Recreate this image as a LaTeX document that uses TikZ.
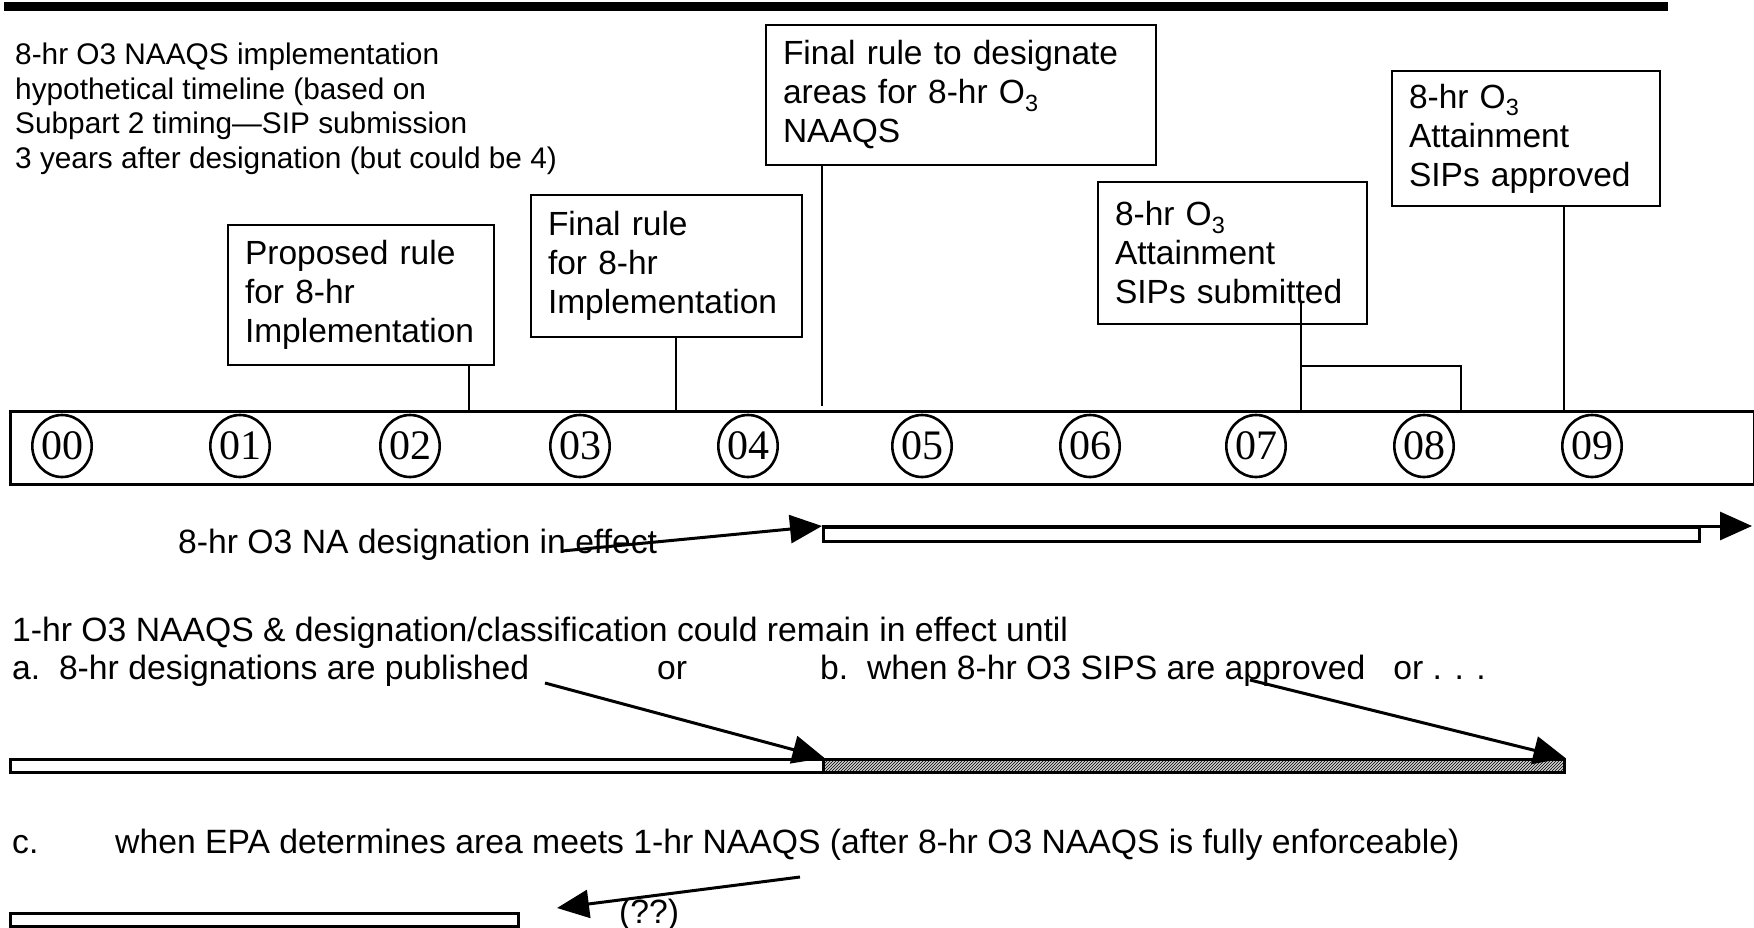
\documentclass[tikz,border=0pt]{standalone}
\usepackage{fontspec}
\setmainfont{Liberation Sans}
\newfontfamily\numfont{Liberation Serif}
\usetikzlibrary{arrows.meta,patterns,shapes.geometric}
\begin{document}
\begin{tikzpicture}[x=1pt,y=-1pt,
  evbox/.style={draw, line width=2pt, anchor=north west, align=left, inner xsep=17pt, inner ysep=0pt, font=\fontsize{33.5}{39}\selectfont},
  yr/.style={draw, ellipse, line width=2.6pt, minimum width=54pt, minimum height=62pt, inner sep=0pt, font=\numfont\fontsize{42}{42}\selectfont},
  tick/.style={line width=2pt},
  bigarrow/.style={line width=3pt, -{Triangle[length=32pt,width=28pt]}},
  period/.style={draw, line width=2.5pt, fill=white, anchor=north west, inner sep=0pt},
  lbl/.style={anchor=base west, inner sep=0pt, font=\fontsize{33.7}{40}\selectfont}
]
\useasboundingbox (0,0) rectangle (1754,928);

% top rule
\draw[line width=9pt] (4,7) -- (1668,7);

% title
\node[anchor=north west, align=left, inner sep=0pt, font=\fontsize{29.8}{34.5}\selectfont] (title) at (15,43)
  {8-hr O3 NAAQS implementation\\hypothetical timeline (based on\\Subpart 2 timing---SIP submission\\3 years after designation (but could be 4)};

% event boxes
\node[evbox, text width=232pt, minimum height=140pt] (prop) at (227,224) {Proposed rule\\for 8-hr\\Implementation};
\node[evbox, text width=237pt, minimum height=142pt] (fin) at (530,194) {Final rule\\for 8-hr\\Implementation};
\node[evbox, text width=356pt, minimum height=140pt] (desig) at (765,24) {Final rule to designate\\areas for 8-hr O\textsubscript{3}\\NAAQS};
\node[evbox, text width=235pt, minimum height=142pt] (sub) at (1097,181) {8-hr O\textsubscript{3}\\Attainment\\SIPs submitted};
\node[evbox, text width=234pt, minimum height=135pt] (appr) at (1391,70) {8-hr O\textsubscript{3}\\Attainment\\SIPs approved};

% timeline bar
\node[draw, line width=3pt, anchor=north west, minimum width=1744pt, minimum height=73pt, inner sep=0pt] (bar) at (9,410) {};
\foreach \i/\x in {00/62,01/240,02/410,03/580,04/748,05/922,06/1090,07/1256,08/1424,09/1592}
  \node[yr] (c\i) at (\x,446) {\i};

% connectors
\draw[tick] ([xshift=242pt]prop.south west) -- ([xshift=242pt]prop.south west |- bar.north);
\draw[tick] ([xshift=146pt]fin.south west) -- ([xshift=146pt]fin.south west |- bar.north);
\draw[tick] ([xshift=57pt]desig.south west) -- ([xshift=57pt,yshift=4pt]desig.south west |- bar.north);
\coordinate (brk) at (1461,366);
\draw[tick] ([xshift=204pt,yshift=23pt]sub.south west) -- ([xshift=204pt]sub.south west |- bar.north);
\draw[tick] ([xshift=204pt]sub.south west |- brk) -- (brk) -- (brk |- bar.north);
\draw[tick] ([xshift=173pt]appr.south west) -- ([xshift=173pt]appr.south west |- bar.north);

% 8-hr NA designation
\node[lbl] (na) at (178,553) {8-hr O3 NA designation in effect};
\node[period, minimum width=876pt, minimum height=14pt] (nabar) at (822,526) {};
\coordinate (naend) at (1752,526);
\coordinate (nastart) at (562,551);
\draw[bigarrow] (nabar.north west) -- (naend);
\draw[bigarrow] (nastart) -- (nabar.north west);

% 1-hr text
\node[lbl] (l1) at (12,641) {1-hr O3 NAAQS \& designation/classification could remain in effect until};
\node[lbl] (la) at (12,679) {a.\ \ 8-hr designations are published};
\node[lbl, anchor=base] (or1) at (672,679) {or};
\node[lbl] (lb) at (820,679) {b.\ \ when 8-hr O3 SIPS are approved\ \ \ or . . .};

\node[period, minimum width=813pt, minimum height=13pt] (abar) at (9,758) {};
\node[period, minimum width=741pt, minimum height=13pt, preaction={fill=gray!35}, pattern=north east lines] (bbar) at (822,758) {};
\coordinate (astart) at (545,683);
\coordinate (bstart) at (1250,680);
\draw[bigarrow] (astart) -- (abar.north east);
\draw[bigarrow] (bstart) -- (bbar.north east);

% c
\node[lbl] (lc) at (12,853) {c.};
\node[lbl] (lcw) at (115,853) {when EPA determines area meets 1-hr NAAQS (after 8-hr O3 NAAQS is fully enforceable)};
\node[period, minimum width=508pt, minimum height=13pt] (cbar) at (9,912) {};
\coordinate (cstart) at (800,877);
\coordinate (cend) at (557,908);
\draw[bigarrow] (cstart) -- (cend);
\node[lbl] (qq) at (619,923) {(??)};
\end{tikzpicture}
\end{document}
